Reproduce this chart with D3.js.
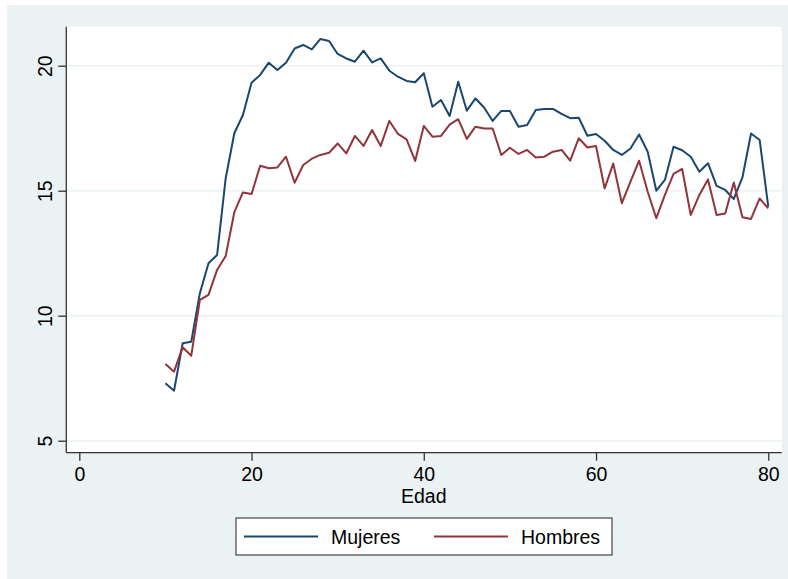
<!DOCTYPE html>
<html>
<head>
<meta charset="utf-8">
<script src="https://cdn.jsdelivr.net/npm/d3@7"></script>
<style>
  html, body { margin: 0; padding: 0; background: #ffffff; }
  svg { display: block; }
  text { font-family: "Liberation Sans", Arial, sans-serif; fill: #000; }
</style>
</head>
<body>
<svg id="chart" width="788" height="579"></svg>
<script>
// ---- Data ----
const ages = d3.range(10, 81);
const mujeres = [7.30, 7.00, 8.90, 8.96, 10.90, 12.10, 12.43, 15.50, 17.30, 18.03,
  19.32, 19.63, 20.12, 19.83, 20.12, 20.69, 20.83, 20.65, 21.07, 20.99,
  20.47, 20.29, 20.16, 20.60, 20.13, 20.29, 19.80, 19.56, 19.39, 19.34,
  19.70, 18.36, 18.63, 17.99, 19.36, 18.20, 18.69, 18.33, 17.79, 18.19,
  18.19, 17.56, 17.63, 18.23, 18.27, 18.27, 18.07, 17.90, 17.92, 17.20,
  17.27, 17.00, 16.63, 16.43, 16.69, 17.25, 16.56, 15.00, 15.43, 16.76,
  16.62, 16.36, 15.76, 16.10, 15.19, 15.03, 14.67, 15.53, 17.29, 17.03,
  14.36];
const hombres = [8.07, 7.76, 8.74, 8.40, 10.63, 10.83, 11.83, 12.39, 14.14, 14.93,
  14.87, 16.00, 15.90, 15.93, 16.36, 15.32, 16.03, 16.28, 16.43, 16.52,
  16.89, 16.49, 17.19, 16.79, 17.43, 16.79, 17.79, 17.27, 17.05, 16.19,
  17.59, 17.16, 17.19, 17.64, 17.86, 17.07, 17.56, 17.49, 17.49, 16.43,
  16.72, 16.47, 16.63, 16.33, 16.36, 16.56, 16.63, 16.20, 17.10, 16.73,
  16.79, 15.09, 16.09, 14.50, 15.36, 16.20, 14.96, 13.90, 14.83, 15.67,
  15.87, 14.03, 14.83, 15.45, 14.03, 14.09, 15.33, 13.94, 13.87, 14.69,
  14.29];
const xTicks = [0, 20, 40, 60, 80];
const yTicks = [5, 10, 15, 20];
const seriesNames = ["Mujeres", "Hombres"];
const seriesColors = ["#1a476f", "#90353b"];

// ---- Layout ----
const W = 788, H = 579;
const plot = { left: 66.3, right: 781.7, top: 26.7, bottom: 452.7 };
const bg = "#eaf2f3";

const svg = d3.select("#chart");

// outer background (white edge on top/left, as in reference)
svg.append("rect").attr("x", 0).attr("y", 0).attr("width", W).attr("height", H).attr("fill", "#ffffff");
svg.append("rect").attr("x", 7).attr("y", 5).attr("width", W - 7).attr("height", H - 5).attr("fill", bg);

// plot region
svg.append("rect")
  .attr("x", plot.left).attr("y", plot.top)
  .attr("width", plot.right - plot.left).attr("height", plot.bottom - plot.top)
  .attr("fill", "#ffffff");

const x = d3.scaleLinear().domain([-1.51, 81.56]).range([plot.left, plot.right]);
const y = d3.scaleLinear().domain([4.52, 21.56]).range([plot.bottom, plot.top]);

// gridlines
svg.append("g")
  .selectAll("line")
  .data(yTicks)
  .join("line")
  .attr("x1", plot.left).attr("x2", plot.right)
  .attr("y1", d => y(d)).attr("y2", d => y(d))
  .attr("stroke", bg).attr("stroke-width", 1.6);

// lines
const seriesData = [mujeres, hombres];
const line = d3.line().x((d, i) => x(ages[i])).y(d => y(d));
seriesData.forEach((s, k) => {
  svg.append("path")
    .datum(s)
    .attr("d", line)
    .attr("fill", "none")
    .attr("stroke", seriesColors[k])
    .attr("stroke-width", 2)
    .attr("stroke-linejoin", "round");
});

// axes
const xAxis = d3.axisBottom(x).tickValues(xTicks).tickSize(8).tickPadding(6).tickSizeOuter(0);
const gx = svg.append("g").attr("transform", `translate(0,${plot.bottom})`).call(xAxis);
gx.select(".domain").attr("d", `M${plot.left},0H${plot.right}`).attr("stroke", "#333").attr("stroke-width", 1.3);
gx.selectAll(".tick line").attr("stroke", "#333").attr("stroke-width", 1.3);
gx.selectAll(".tick text")
  .attr("font-size", 19.5)
  .attr("font-family", "Liberation Sans, Arial, sans-serif")
  .attr("fill", "#000");

const yAxis = d3.axisLeft(y).tickValues(yTicks).tickSize(8).tickSizeOuter(0).tickFormat(d3.format("d"));
const gy = svg.append("g").attr("transform", `translate(${plot.left},0)`).call(yAxis);
gy.select(".domain").attr("d", `M0,${plot.top}V${plot.bottom}`).attr("stroke", "#333").attr("stroke-width", 1.3);
gy.selectAll(".tick line").attr("stroke", "#333").attr("stroke-width", 1.3);
gy.selectAll(".tick text")
  .attr("font-size", 19.5)
  .attr("font-family", "Liberation Sans, Arial, sans-serif")
  .attr("fill", "#000")
  .attr("x", null).attr("dy", null)
  .attr("text-anchor", "middle")
  .attr("transform", "translate(-14.6,0) rotate(-90)");

// x axis title
svg.append("text")
  .attr("x", x(40)).attr("y", 503)
  .attr("text-anchor", "middle")
  .attr("font-size", 19.5)
  .text("Edad");

// legend
const leg = svg.append("g");
leg.append("rect")
  .attr("x", 236).attr("y", 518).attr("width", 376).attr("height", 37)
  .attr("fill", "#ffffff").attr("stroke", "#444").attr("stroke-width", 1.2);
const legItems = [
  { x1: 244, x2: 318, tx: 331 },
  { x1: 434, x2: 508, tx: 521 }
];
legItems.forEach((it, k) => {
  leg.append("line")
    .attr("x1", it.x1).attr("x2", it.x2).attr("y1", 536.5).attr("y2", 536.5)
    .attr("stroke", seriesColors[k]).attr("stroke-width", 2);
  leg.append("text")
    .attr("x", it.tx).attr("y", 544)
    .attr("font-size", 19.5)
    .text(seriesNames[k]);
});
</script>
</body>
</html>
